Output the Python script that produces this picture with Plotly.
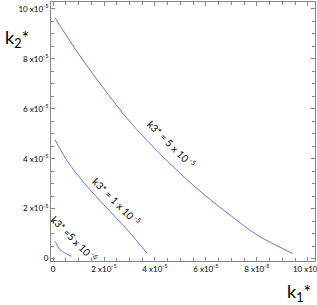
import plotly.graph_objects as go

# values in units of 1e-5
k1_a = [0.08, 1.0, 2.0, 3.0, 4.0, 5.0, 6.0, 7.0, 8.0, 9.41]
k2_a = [9.64, 8.2, 6.8, 5.5, 4.4, 3.4, 2.5, 1.7, 0.95, 0.2]
k1_b = [0.08, 0.5, 1.0, 1.5, 2.0, 2.5, 3.0, 3.69]
k2_b = [4.76, 4.0, 3.3, 2.7, 2.15, 1.6, 1.05, 0.2]
k1_c = [0.08, 0.27, 0.5, 0.73]
k2_c = [0.69, 0.36, 0.2, 0.09]

tick_vals = [0, 2, 4, 6, 8, 10]
tick_text = ["0", "2 x10<sup>-5</sup>", "4 x10<sup>-5</sup>", "6 x10<sup>-5</sup>",
             "8 x10<sup>-5</sup>", "10 x10<sup>-5</sup>"]

labels = ["k3* = 5 x 10<sup> -5</sup>", "k3* = 1 x 10<sup> -5</sup>", "k3* =5 x 10<sup> -6</sup>"]
label_x = [4.65, 2.52, 0.85]
label_y = [4.62, 2.3, 0.82]

line_color = "rgb(110,110,240)"
fig = go.Figure()
for xs, ys in [(k1_a, k2_a), (k1_b, k2_b), (k1_c, k2_c)]:
    fig.add_trace(go.Scatter(x=xs, y=ys, mode="lines", line=dict(color=line_color, width=1, shape="spline"),
                             showlegend=False, hoverinfo="skip"))

for t, x, y in zip(labels, label_x, label_y):
    fig.add_annotation(x=x, y=y, xref="x", yref="y", text=t, showarrow=False, textangle=45,
                       font=dict(size=10, color="black", family="Lato"))

axis = dict(
    tickvals=tick_vals, ticktext=tick_text, ticks="inside", ticklen=4, tickcolor="#888",
    showline=True, linecolor="#888", linewidth=1, mirror="ticks", showgrid=False, zeroline=False,
    tickfont=dict(size=8, color="black", family="Lato"), automargin=False, ticklabeloverflow="allow",
    minor=dict(dtick=0.5, ticks="inside", ticklen=3, tickcolor="#888", showgrid=False),
)
fig.update_layout(
    width=317, height=305, margin=dict(l=51, r=2, t=2, b=44, autoexpand=False),
    paper_bgcolor="white", plot_bgcolor="white",
    xaxis=dict(range=[-0.08, 10.28], **axis),
    yaxis=dict(range=[-0.1, 10.28], **axis),
)
fig.add_annotation(x=-0.13, y=0.86, xref="paper", yref="paper", text="k<sub>2</sub>*", showarrow=False,
                   xanchor="center", yanchor="middle", font=dict(size=18, color="black", family="Lato"))
fig.add_annotation(x=0.94, y=-0.12, xref="paper", yref="paper", text="k<sub>1</sub>*", showarrow=False,
                   xanchor="center", yanchor="middle", font=dict(size=18, color="black", family="Lato"))
fig.write_html("out.html", config={"displayModeBar": False},
               post_script="document.body.style.margin='0px';document.body.style.overflow='hidden';")
